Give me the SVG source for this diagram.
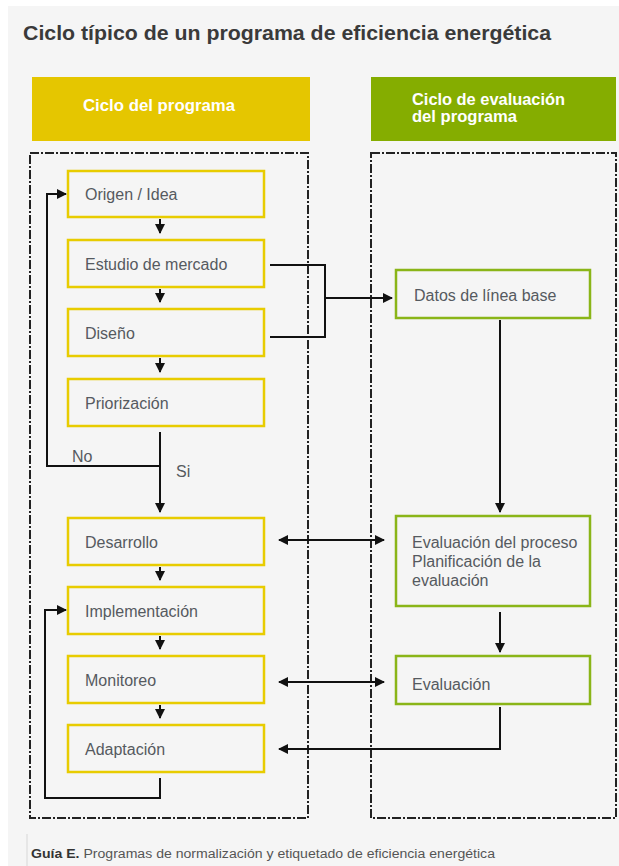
<svg xmlns="http://www.w3.org/2000/svg" width="619" height="866" viewBox="0 0 619 866">
<defs>
<style>
.t{font-family:"Liberation Sans",Arial,sans-serif;fill:#555a60;font-size:16px}
.yb{fill:none;stroke:#e8cc00;stroke-width:2.5}
.gb{fill:none;stroke:#8ab518;stroke-width:2.5}
.cn{fill:none;stroke:#111;stroke-width:2}
.dash{fill:none;stroke:#222;stroke-width:2;stroke-dasharray:9 2 2 2}
.hd{font-family:"Liberation Sans",Arial,sans-serif;fill:#fff;font-size:16px;font-weight:bold}
</style>
<marker id="ah" viewBox="0 0 10 10" refX="9" refY="5" markerWidth="5" markerHeight="5" orient="auto-start-reverse">
<path d="M0,0 L10,5 L0,10 z" fill="#111"/>
</marker>
</defs>
<rect x="0" y="0" width="619" height="866" fill="#ffffff"/>
<rect x="8" y="6" width="611" height="860" fill="#f5f5f5"/>
<text x="23" y="40" font-family="Liberation Sans,Arial,sans-serif" font-size="21" font-weight="bold" fill="#3a3a3a" textLength="528" lengthAdjust="spacingAndGlyphs">Ciclo típico de un programa de eficiencia energética</text>

<g id="header-programa">
<rect x="32" y="77" width="278" height="64" fill="#e5c600"/>
<text class="hd" x="83" y="111" textLength="152" lengthAdjust="spacingAndGlyphs">Ciclo del programa</text>
</g>
<g id="header-evaluacion">
<rect x="371" y="77" width="245" height="64" fill="#85ad00"/>
<text class="hd" x="412" y="105" textLength="153" lengthAdjust="spacingAndGlyphs">Ciclo de evaluación</text>
<text class="hd" x="412" y="122" textLength="105" lengthAdjust="spacingAndGlyphs">del programa</text>
</g>

<g id="containers">
<rect class="dash" x="30" y="153" width="278" height="665"/>
<rect class="dash" x="371" y="153" width="245" height="665"/>
</g>

<g id="n-origen"><rect class="yb" x="68" y="171" width="196" height="46"/><text class="t" x="85" y="200">Origen / Idea</text></g>
<g id="n-estudio"><rect class="yb" x="68" y="240" width="196" height="47"/><text class="t" x="85" y="270">Estudio de mercado</text></g>
<g id="n-diseno"><rect class="yb" x="68" y="309" width="196" height="47"/><text class="t" x="85" y="339">Diseño</text></g>
<g id="n-priorizacion"><rect class="yb" x="68" y="379" width="196" height="47"/><text class="t" x="85" y="409">Priorización</text></g>
<g id="n-desarrollo"><rect class="yb" x="68" y="518" width="196" height="47"/><text class="t" x="85" y="548">Desarrollo</text></g>
<g id="n-implementacion"><rect class="yb" x="68" y="587" width="196" height="47"/><text class="t" x="85" y="617">Implementación</text></g>
<g id="n-monitoreo"><rect class="yb" x="68" y="656" width="196" height="47"/><text class="t" x="85" y="686">Monitoreo</text></g>
<g id="n-adaptacion"><rect class="yb" x="68" y="725" width="196" height="47"/><text class="t" x="85" y="755">Adaptación</text></g>

<g id="n-datos"><rect class="gb" x="396" y="270" width="194" height="48"/><text class="t" x="414" y="301">Datos de línea base</text></g>
<g id="n-evalproceso"><rect class="gb" x="396" y="516" width="194" height="90"/>
<text class="t" x="412" y="548">Evaluación del proceso</text>
<text class="t" x="412" y="567">Planificación de la</text>
<text class="t" x="412" y="586">evaluación</text></g>
<g id="n-evaluacion"><rect class="gb" x="396" y="656" width="194" height="48"/><text class="t" x="412" y="690">Evaluación</text></g>

<g id="connectors">
<path class="cn" d="M160,219 V233" marker-end="url(#ah)"/>
<path class="cn" d="M160,289 V302" marker-end="url(#ah)"/>
<path class="cn" d="M160,358 V372" marker-end="url(#ah)"/>
<path class="cn" d="M160,567 V580" marker-end="url(#ah)"/>
<path class="cn" d="M160,636 V649" marker-end="url(#ah)"/>
<path class="cn" d="M160,705 V718" marker-end="url(#ah)"/>
<path class="cn" d="M160,432 V512" marker-end="url(#ah)"/>
<path class="cn" d="M160,466 H47 V194 H66" marker-end="url(#ah)"/>
<path class="cn" d="M160,778 V798 H45 V610 H66" marker-end="url(#ah)"/>
<path class="cn" d="M270,265 H325 V337 H270"/>
<path class="cn" d="M325,298 H392" marker-end="url(#ah)"/>
<path class="cn" d="M500,320 V512" marker-end="url(#ah)"/>
<path class="cn" d="M279,540 H384" marker-start="url(#ah)" marker-end="url(#ah)"/>
<path class="cn" d="M500,612 V652" marker-end="url(#ah)"/>
<path class="cn" d="M279,682 H384" marker-start="url(#ah)" marker-end="url(#ah)"/>
<path class="cn" d="M500,707 V749 H279" marker-end="url(#ah)"/>
</g>
<text class="t" x="72" y="462" fill="#444">No</text>
<text class="t" x="176" y="477">Si</text>

<line x1="27" y1="834" x2="27" y2="866" stroke="#e0e0e0" stroke-width="1.5"/>
<text x="31" y="858" font-family="Liberation Sans,Arial,sans-serif" font-size="12" fill="#555" textLength="464" lengthAdjust="spacingAndGlyphs"><tspan font-weight="bold" fill="#333">Guía E.</tspan> Programas de normalización y etiquetado de eficiencia energética</text>
</svg>
